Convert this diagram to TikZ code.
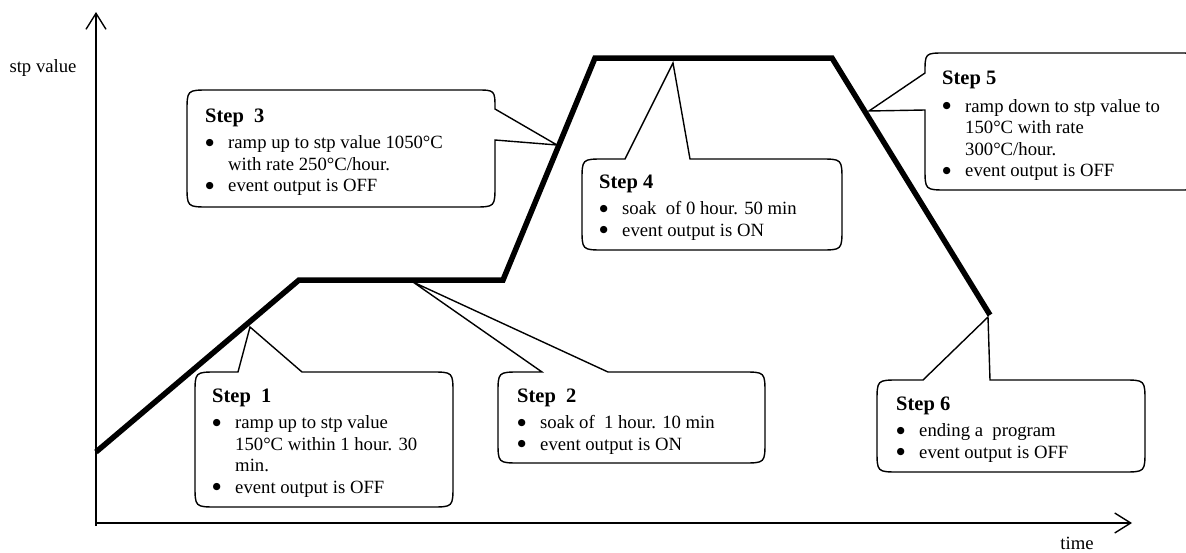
\documentclass[tikz,border=0pt]{standalone}
\usepackage{fontspec}
\setmainfont{Liberation Serif}
\newfontfamily\dejavu{DejaVu Sans}
\usetikzlibrary{arrows.meta}
\tikzset{
  co/.style={draw=black, line width=1.4pt, fill=white, line join=miter},
  prof/.style={line width=5.5pt, line join=miter},
  ax/.style={line width=1.4pt, -{Straight Barb[length=16pt,width=20pt]}},
  txt/.style={anchor=north west, inner sep=0pt, align=left, font=\fontsize{18.7}{21.5}\selectfont},
  lbl/.style={inner sep=0pt, font=\fontsize{18.7}{21.5}\selectfont},
}
\newcommand\steptitle[1]{{\fontsize{20.5}{24}\selectfont\bfseries #1}}
\newcommand\cbul{\makebox[23pt][l]{\hspace{0.5pt}\raisebox{3.3pt}{\dejavu\fontsize{9.5}{10}\selectfont ●}}}
\newcommand\cind{\hspace*{23pt}}
\begin{document}
\begin{tikzpicture}[x=1pt, y=-1pt]
\useasboundingbox (0,0) rectangle (1186,552);
\clip (0,0) rectangle (1186,552);

% axes
\coordinate (o) at (96,523);
\coordinate (ytop) at (96,12);
\coordinate (xend) at (1132,523);
\draw[ax] (96,526) -- (ytop);
\draw[ax] (o) -- (xend);
\node[lbl] (ylab) at (43,68) {stp value};
\node[lbl] (xlab) at (1077,543) {time};

% profile points
\coordinate (p0) at (96,452);
\coordinate (p1) at (299,280);
\coordinate (p2) at (503,280);
\coordinate (p3) at (595,58);
\coordinate (p4) at (832,58);
\coordinate (p5) at (990,315);

% callout tips
\coordinate (t1) at (250,327);
\coordinate (t2) at (413,282);
\coordinate (t3) at (557,145);
\coordinate (t4) at (673,63);
\coordinate (t5) at (869,111);
\coordinate (t6) at (988,317);

% Step 1 callout
\draw[co] (238,372) -- (t1) -- (302,372) -- (431,372) .. controls (453,372) .. (453,394)
  -- (453,485) .. controls (453,507) .. (431,507) -- (217,507) .. controls (195,507) .. (195,485)
  -- (195,394) .. controls (195,372) .. (217,372) -- cycle;
% Step 2 callout
\draw[co] (542,372) -- (t2) -- (608,372) -- (743,372) .. controls (765,372) .. (765,394)
  -- (765,441) .. controls (765,463) .. (743,463) -- (520,463) .. controls (498,463) .. (498,441)
  -- (498,394) .. controls (498,372) .. (520,372) -- cycle;
% Step 3 callout
\draw[co] (495,109) -- (t3) -- (495,140) -- (495,185) .. controls (495,207) .. (473,207)
  -- (209,207) .. controls (187,207) .. (187,185) -- (187,112) .. controls (187,90) .. (209,90)
  -- (476,90) .. controls (495,90) .. (495,109) -- cycle;
% Step 4 callout
\draw[co] (625,159) -- (t4) -- (690,159) -- (820,159) .. controls (842,159) .. (842,181)
  -- (842,228) .. controls (842,250) .. (820,250) -- (604,250) .. controls (582,250) .. (582,228)
  -- (582,181) .. controls (582,159) .. (604,159) -- cycle;
% Step 5 callout
\draw[co] (925,73) -- (t5) -- (925,110) -- (925,168) .. controls (925,190) .. (947,190)
  -- (1178,190) .. controls (1200,190) .. (1200,168) -- (1200,75) .. controls (1200,53) .. (1178,53)
  -- (945,53) .. controls (925,53) .. (925,73) -- cycle;
% Step 6 callout
\draw[co] (923,380) -- (t6) -- (990,380) -- (1123,380) .. controls (1145,380) .. (1145,402)
  -- (1145,450) .. controls (1145,472) .. (1123,472) -- (899,472) .. controls (877,472) .. (877,450)
  -- (877,402) .. controls (877,380) .. (899,380) -- cycle;

% profile
\draw[prof] (p0) -- (p1) -- (p2) -- (p3) -- (p4) -- (p5);

% texts
\node[txt] (s1) at (212,389) {\steptitle{Step\ \ 1}\\[4.5pt]
  \cbul ramp up to stp value\\
  \cind 150°C within 1 hour. 30\\
  \cind min.\\
  \cbul event output is OFF};
\node[txt] (s2) at (517,389) {\steptitle{Step\ \ 2}\\[4.5pt]
  \cbul soak of\ \ 1 hour. 10 min\\
  \cbul event output is ON};
\node[txt] (s3) at (205,109) {\steptitle{Step\ \ 3}\\[4.5pt]
  \cbul ramp up to stp value 1050°C\\
  \cind with rate 250°C/hour.\\
  \cbul event output is OFF};
\node[txt] (s4) at (599,175) {\steptitle{Step 4}\\[4.5pt]
  \cbul soak\ \ of 0 hour. 50 min\\
  \cbul event output is ON};
\node[txt] (s5) at (942,71) {\steptitle{Step 5}\\[6pt]
  \cbul ramp down to stp value to\\
  \cind 150°C with rate\\
  \cind 300°C/hour.\\
  \cbul event output is OFF};
\node[txt] (s6) at (896,397) {\steptitle{Step 6}\\[4.5pt]
  \cbul ending a\ \ program\\
  \cbul event output is OFF};
\end{tikzpicture}
\end{document}
